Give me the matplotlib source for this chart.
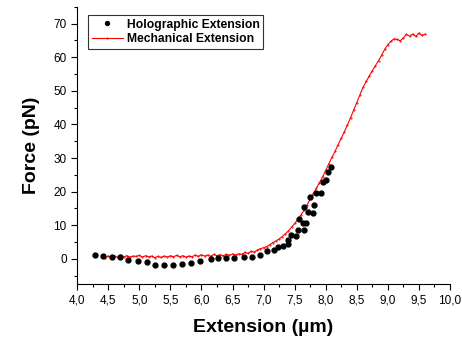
import numpy as np
import matplotlib.pyplot as plt
from matplotlib.ticker import MultipleLocator, FuncFormatter

plt.rcParams['font.family'] = ['Liberation Sans', 'DejaVu Sans']

# Holographic extension (black dots)
holo_x = [4.29, 4.42, 4.56, 4.69, 4.82, 4.98, 5.13, 5.26, 5.40, 5.55, 5.68, 5.84,
          5.98, 6.15, 6.26, 6.40, 6.52, 6.68, 6.82, 6.95, 7.06, 7.16, 7.24, 7.32,
          7.39, 7.40, 7.44, 7.52, 7.55, 7.57, 7.63, 7.65, 7.68, 7.65, 7.71, 7.74,
          7.79, 7.81, 7.84, 7.92, 7.95, 8.00, 8.03, 8.08]
holo_y = [1.0, 0.9, 0.6, 0.6, -0.5, -0.8, -1.1, -1.8, -1.9, -1.8, -1.5, -1.2,
          -0.6, 0.0, 0.3, 0.3, 0.3, 0.4, 0.6, 1.2, 2.2, 2.7, 3.6, 3.9,
          4.5, 5.6, 7.1, 6.8, 8.6, 11.9, 10.7, 8.6, 10.7, 15.4, 14.0, 18.4,
          13.6, 16.0, 19.6, 19.6, 22.8, 23.4, 25.8, 27.3]

# Mechanical extension (red line)
mech_x = [4.45, 4.50, 4.55, 4.60, 4.65, 4.70, 4.75, 4.80, 4.85, 4.90, 4.95, 5.00,
          5.05, 5.10, 5.15, 5.20, 5.25, 5.30, 5.35, 5.40, 5.45, 5.50, 5.55, 5.60,
          5.65, 5.70, 5.75, 5.80, 5.85, 5.90, 5.95, 6.00, 6.05, 6.10, 6.15, 6.20,
          6.25, 6.30, 6.35, 6.40, 6.45, 6.50, 6.55, 6.60, 6.65, 6.70, 6.75, 6.80,
          6.85, 6.90, 6.95, 7.00, 7.05, 7.10, 7.15, 7.20, 7.25, 7.30, 7.35, 7.40,
          7.45, 7.50, 7.55, 7.60, 7.65, 7.70, 7.75, 7.80, 7.85, 7.90, 7.95, 8.00,
          8.05, 8.10, 8.15, 8.20, 8.25, 8.30, 8.35, 8.40, 8.45, 8.50, 8.55, 8.60,
          8.65, 8.70, 8.75, 8.80, 8.85, 8.90, 8.95, 9.00, 9.05, 9.10, 9.15, 9.20,
          9.25, 9.30, 9.35, 9.40, 9.45, 9.50, 9.55, 9.60]
mech_y = [0.3, 0.8, 0.5, 0.9, 0.4, 1.0, 0.6, 0.9, 0.5, 0.8, 0.7, 1.0,
          0.5, 0.9, 0.6, 0.8, 0.3, 0.7, 0.4, 0.8, 0.5, 0.9, 0.6, 1.0,
          0.6, 0.9, 0.5, 0.8, 0.6, 1.1, 0.7, 1.2, 0.8, 1.1, 0.7, 1.3,
          0.9, 1.2, 0.9, 1.3, 1.0, 1.4, 1.1, 1.5, 1.3, 1.9, 1.6, 2.2,
          2.0, 2.6, 3.0, 3.3, 3.6, 4.2, 4.8, 5.3, 5.9, 6.6, 7.4, 8.3,
          9.4, 10.5, 11.7, 13.0, 14.4, 16.0, 17.8, 19.4, 21.0, 22.7, 24.4, 26.3,
          28.3, 30.2, 32.0, 34.0, 35.9, 37.8, 39.9, 42.0, 44.3, 46.5, 48.8, 51.0,
          52.8, 54.4, 56.0, 57.5, 59.0, 60.6, 62.4, 63.8, 64.8, 65.5, 65.3, 64.9,
          65.8, 66.8, 66.3, 66.9, 66.2, 67.2, 66.5, 66.9]

fig = plt.figure(figsize=(4.62, 3.45), dpi=100)
ax = fig.add_axes([0.167, 0.177, 0.807, 0.803])

ax.plot(mech_x, mech_y, color='red', lw=0.8, marker='.', markersize=1,
        label='Mechanical Extension', zorder=2)
ax.plot(holo_x, holo_y, 'o', color='black', markersize=3.5, lw=0,
        label='Holographic Extension', zorder=3)

ax.set_xlim(4.0, 10.0)
ax.set_ylim(-7.5, 75)
ax.xaxis.set_major_locator(MultipleLocator(0.5))
ax.xaxis.set_minor_locator(MultipleLocator(0.25))
ax.yaxis.set_major_locator(MultipleLocator(10))
ax.yaxis.set_minor_locator(MultipleLocator(5))
ax.xaxis.set_major_formatter(FuncFormatter(lambda v, p: f'{v:.1f}'.replace('.', ',')))
ax.yaxis.set_major_formatter(FuncFormatter(lambda v, p: f'{v:.0f}'))

for s in ['top', 'right']:
    ax.spines[s].set_visible(False)
ax.tick_params(which='major', direction='out', length=4, width=0.8, labelsize=8.5)
ax.tick_params(which='minor', direction='out', length=2, width=0.8)

ax.set_xlabel('Extension (µm)', fontsize=14, fontweight='bold', labelpad=9)
ax.set_ylabel('Force (pN)', fontsize=14, fontweight='bold', labelpad=10)

h, l = ax.get_legend_handles_labels()
leg = ax.legend(h[::-1], l[::-1], loc='upper left', bbox_to_anchor=(0.013, 0.993),
                prop={'weight': 'bold', 'size': 8.7}, frameon=True,
                fancybox=False, edgecolor='black', handlelength=2.6,
                borderpad=0.3, labelspacing=0.2, handletextpad=0.3,
                markerscale=0.8)
leg.get_frame().set_linewidth(0.8)

fig.savefig('out.png', dpi=100)
